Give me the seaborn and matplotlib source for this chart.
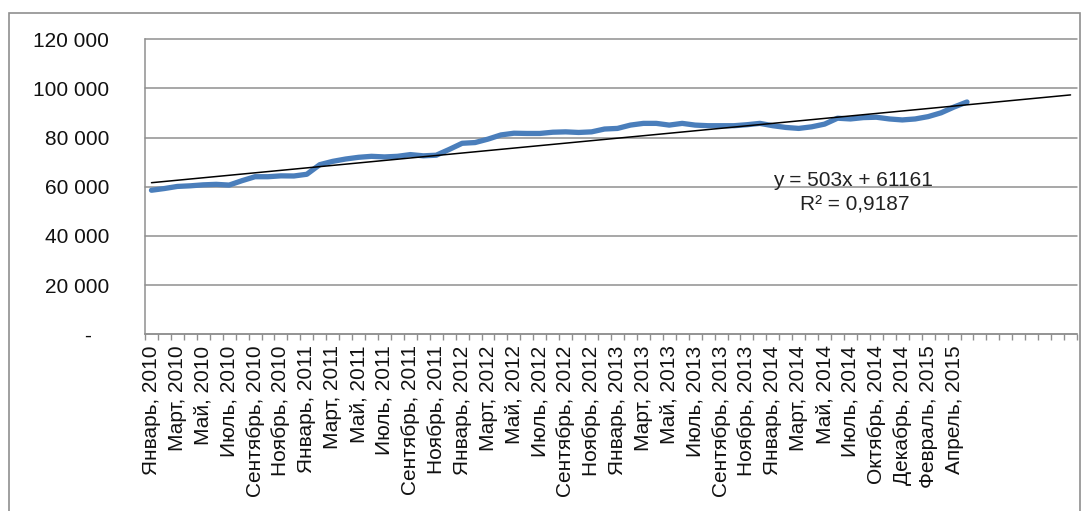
import matplotlib
matplotlib.use("Agg")
import matplotlib.pyplot as plt
import matplotlib.ticker as mticker
from matplotlib.patches import Rectangle
import numpy as np
import pandas as pd
import seaborn as sns

# ---- data -------------------------------------------------------------
months = ["Январь", "Февраль", "Март", "Апрель", "Май", "Июнь", "Июль",
          "Август", "Сентябрь", "Октябрь", "Ноябрь", "Декабрь"]

categories = ([f"{m}, {y}" for y in range(2010, 2014) for m in months]
              + [f"{m}, 2014" for m in months[:8]]
              + [f"{m}, 2014" for m in months[9:]]
              + [f"{m}, 2015" for m in months[:5]])

values = [58600, 59300, 60150, 60400, 60800, 61000, 60700, 62500, 64100, 64100,
          64450, 64400, 65100, 69000, 70350, 71300, 72000, 72400, 72150, 72400,
          73100, 72600, 72850, 75200, 77700, 78000, 79400, 81100, 81800, 81700,
          81700, 82200, 82350, 82100, 82350, 83500, 83750, 85100, 85800, 85800,
          85100, 85800, 85100, 84850, 84850, 84850, 85250, 85800, 84850, 84150,
          83750, 84400, 85500, 87900, 87600, 88150, 88300, 87600, 87200, 87600,
          88550, 90100, 92450, 94500]

trend_slope = 503
trend_intercept = 61161
trend_r2 = "0,9187"
forecast_periods = 8

y_ticks = [0, 20000, 40000, 60000, 80000, 100000, 120000]

# ---- frame ------------------------------------------------------------
n = len(values)
total = n + forecast_periods
df = pd.DataFrame({"pos": np.arange(n), "value": values, "month": categories})
trend_df = pd.DataFrame({"pos": np.arange(total)})
trend_df["value"] = trend_slope * (trend_df["pos"] + 1) + trend_intercept

sns.set_theme(style="white")
plt.rcParams["font.family"] = ["Liberation Sans", "DejaVu Sans"]

W, H = 1086, 511
fig = plt.figure(figsize=(W / 100, H / 100), dpi=100)
ax = fig.add_axes([145 / W, 1 - 334.3 / H, (1077 - 145) / W, (334.3 - 39.3) / H])

sns.lineplot(data=df, x="pos", y="value", ax=ax, color="#4A7EBB",
             linewidth=3.8, solid_capstyle="round", zorder=3)
sns.lineplot(data=trend_df, x="pos", y="value", ax=ax, color="black",
             linewidth=1.1, zorder=4)

ax.set_xlim(-0.5, total - 0.5)
ax.set_ylim(y_ticks[0], y_ticks[-1])
ax.set_xlabel("")
ax.set_ylabel("")

# y axis
ax.set_yticks(y_ticks)
def fmt(v, _):
    if v == 0:
        return "-   "
    return f"{int(v):,}".replace(",", " ")
ax.yaxis.set_major_formatter(mticker.FuncFormatter(fmt))
ax.yaxis.grid(True, color="#8f8f8f", linewidth=1.1)
for gl in ax.get_ygridlines():
    gl.set_clip_on(False)
ax.tick_params(axis="y", which="major", direction="out", length=6, width=1,
               color="#8f8f8f", pad=20, labelsize=15, labelcolor="#111111")

# x axis: labels every second category, tick marks between categories
label_pos = list(range(0, n, 2))
ax.set_xticks(label_pos)
ax.set_xticklabels([categories[i] for i in label_pos], rotation=90,
                   ha="center", va="top")
ax.set_xticks(np.arange(total + 1) - 0.5, minor=True)
ax.tick_params(axis="x", which="major", length=0, pad=8, labelsize=15,
               labelcolor="#111111")
ax.tick_params(axis="x", which="minor", direction="out", length=4, width=1,
               color="#8f8f8f", bottom=True)

for side in ["top", "right"]:
    ax.spines[side].set_visible(False)
for side in ["left", "bottom"]:
    ax.spines[side].set_color("#8f8f8f")
    ax.spines[side].set_linewidth(1.1)

# trendline equation
ax.text(853 / W, 1 - 181 / H, f"y = {trend_slope}x + {trend_intercept}",
        transform=fig.transFigure, ha="center", va="center", fontsize=15,
        color="#222222")
ax.text(855 / W, 1 - 205 / H, f"R² = {trend_r2}", transform=fig.transFigure,
        ha="center", va="center", fontsize=15, color="#222222")

# outer chart border
fig.patches.append(Rectangle((9 / W, -0.02), (1080 - 9) / W, 1.02 - 13 / H,
                             transform=fig.transFigure, fill=False,
                             edgecolor="#8f8f8f", linewidth=1.2))

fig.savefig("out.png", dpi=100)
